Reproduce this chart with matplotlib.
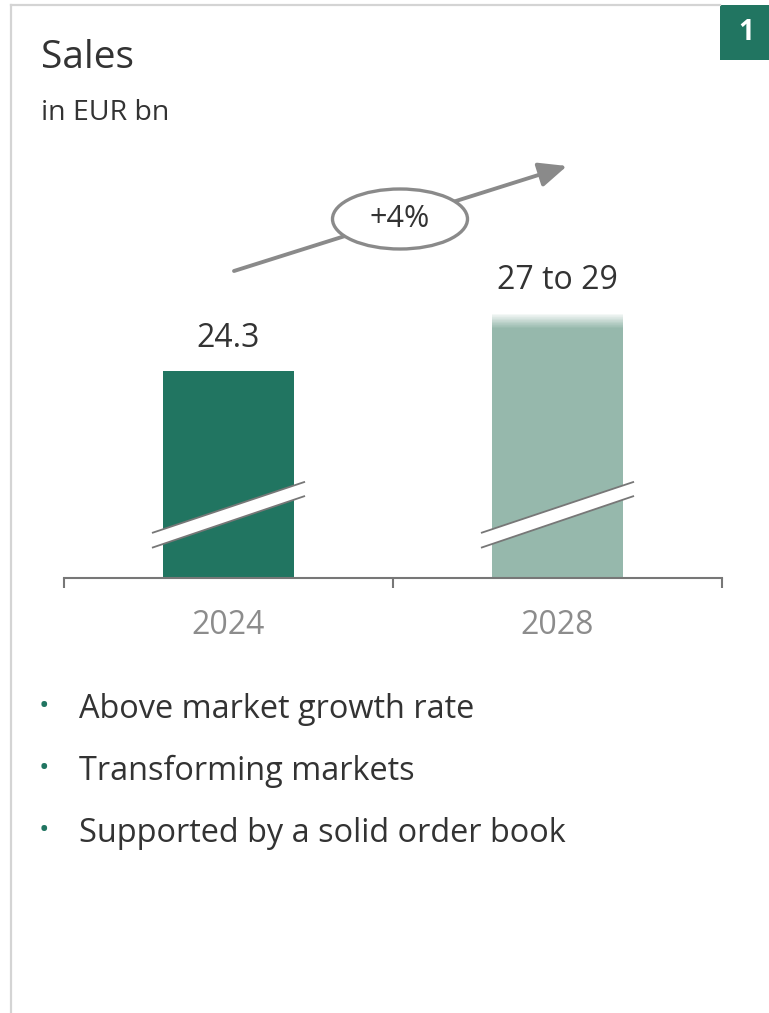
import matplotlib
matplotlib.use("Agg")
import matplotlib.pyplot as plt
import numpy as np
from matplotlib.patches import Ellipse, Rectangle, Polygon
from matplotlib.lines import Line2D

plt.rcParams["font.family"] = ["Open Sans", "DejaVu Sans"]

# --- data ---
years = ["2024", "2028"]
sales_low = [24.3, 27.0]      # EUR bn, solid part of each bar
sales_high = [24.3, 29.0]     # upper end of the target range
value_labels = ["24.3", "27 to 29"]
cagr_label = "+4%"
bullets = ["Above market growth rate",
           "Transforming markets",
           "Supported by a solid order book"]

DARK_GREEN = "#217561"
LIGHT_GREEN = "#96b8ac"
GREY_AXIS = "#777777"
GREY_TEXT = "#8c8c8c"
TEXT = "#333333"

W, H = 769, 1013


def px(x, y):
    """pixel position (from top-left) -> figure fraction"""
    return x / W, 1 - y / H


fig = plt.figure(figsize=(W / 100, H / 100), dpi=100)

# card frame: top and left rules plus the numbered tab
fig.add_artist(Line2D([px(11, 0)[0], px(720, 0)[0]], [px(0, 5)[1]] * 2,
                      transform=fig.transFigure, color="#d4d4d4", lw=1.6))
fig.add_artist(Line2D([px(11, 0)[0]] * 2, [px(0, 5)[1], 0],
                      transform=fig.transFigure, color="#d4d4d4", lw=1.6))
x0, y0 = px(720, 60)
fig.add_artist(Rectangle((x0, y0), 49 / W, 55 / H, transform=fig.transFigure,
                         color=DARK_GREEN, lw=0))
fig.text(*px(746, 33), "1", color="white", fontsize=20, fontweight="bold",
         ha="center", va="center")

fig.text(*px(41, 58), "Sales", fontsize=28, color=TEXT, va="center")
fig.text(*px(41, 113), "in EUR bn", fontsize=20.5, color=TEXT, va="center")

# --- bar chart with a truncated value axis ---
ax_top_px, ax_bot_px = 150, 578
ppu = (371 - 313) / (sales_high[1] - sales_low[0])     # pixels per EUR bn
y_lo = sales_low[0] - (ax_bot_px - 371) / ppu
y_hi = y_lo + (ax_bot_px - ax_top_px) / ppu

left, bottom = px(64, ax_bot_px)
ax = fig.add_axes([left, bottom, 658 / W, (ax_bot_px - ax_top_px) / H])
ax.set_xlim(-0.5, 1.5)
ax.set_ylim(y_lo, y_hi)

x = np.arange(len(years))
bw = 0.40
ax.bar(x[0], sales_low[0], width=bw, color=DARK_GREEN, zorder=2)
ax.bar(x[1], sales_low[1], width=bw, color=LIGHT_GREEN, zorder=2)

# fading top for the 2028 range: thin slices blending into white
n = 40
edges = np.linspace(sales_low[1], sales_high[1], n + 1)
alphas = np.clip(np.linspace(1.6, 0, n), 0, 1) ** 0.9
light = np.array(matplotlib.colors.to_rgb(LIGHT_GREEN))
for b0, b1, a in zip(edges[:-1], edges[1:], alphas):
    col = light * a + (1 - a)
    ax.bar(x[1], b1 - b0 + 0.02, bottom=b0, width=bw, color=col, lw=0, zorder=2)

# axis break marks across each bar
for xc in x:
    xl, xr = xc - 0.23, xc + 0.23
    up = (11.2, 15.3)
    lo = (10.0, 14.15)
    ax.add_patch(Polygon([(xl, lo[0]), (xr, lo[1]), (xr, up[1]), (xl, up[0])],
                         closed=True, color="white", lw=0, zorder=3))
    ax.plot([xl, xr], up, color=GREY_AXIS, lw=1.3, zorder=4)
    ax.plot([xl, xr], lo, color=GREY_AXIS, lw=1.3, zorder=4)

for xi, lab, top in zip(x, value_labels, sales_high):
    ax.text(xi, top + 1.3, lab, ha="center", va="bottom", fontsize=23, color=TEXT)

for s in ["top", "right", "left"]:
    ax.spines[s].set_visible(False)
ax.spines["bottom"].set_color(GREY_AXIS)
ax.spines["bottom"].set_linewidth(1.5)
ax.set_yticks([])
ax.set_xticks(x)
ax.set_xticklabels(years, fontsize=23, color=GREY_TEXT)
ax.tick_params(axis="x", which="major", length=0, pad=22)
ax.set_xticks([-0.5, 0.5, 1.5], minor=True)
ax.tick_params(axis="x", which="minor", length=7, width=1.5, color=GREY_AXIS)

# growth arrow with CAGR bubble
ax_arrow = fig.add_axes([0, 0, 1, 1])
ax_arrow.set_xlim(0, W)
ax_arrow.set_ylim(H, 0)
ax_arrow.axis("off")
ax_arrow.annotate("", xy=(567, 166), xytext=(234, 271),
                  arrowprops=dict(arrowstyle="-|>,head_length=1.7,head_width=0.75",
                                  color="#8a8a8a", lw=2.8, shrinkA=0, shrinkB=0))
ax_arrow.add_patch(Ellipse((400, 219), 135, 60, facecolor="white",
                           edgecolor="#8a8a8a", lw=2.4, zorder=3))
ax_arrow.text(400, 219, cagr_label, ha="center", va="center", fontsize=22,
              color=TEXT, zorder=4)

# bullet points
for i, b in enumerate(bullets):
    yb = 709 + i * 62
    fig.text(*px(44, yb - 2), "•", color=DARK_GREEN, fontsize=20, ha="center", va="center")
    fig.text(*px(79, yb), b, color=TEXT, fontsize=23.4, va="center")

fig.savefig("out.png", dpi=100, facecolor="white")
